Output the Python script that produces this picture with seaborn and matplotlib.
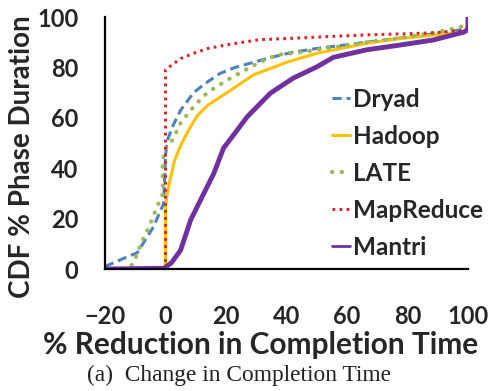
import matplotlib
matplotlib.use("Agg")
import matplotlib.pyplot as plt
import seaborn as sns
import pandas as pd

# ---- data ----
dryad_x = [-20, -15, -9.3, -4, -0.6, 0, 0.6, 2.5, 5, 9.3, 13, 18, 23, 29, 35, 42, 50, 60, 70, 80, 90, 98, 100]
dryad_y = [1, 3.6, 6.5, 16.7, 26, 45, 51, 57, 63, 70, 73.5, 77.6, 80, 82, 84, 86, 87.5, 89, 90.5, 92, 93.5, 95, 96]

late_x = [-14, -12, -10.5, -8.3, -5, -2.7, -0.8, -1, -0.5, 1, 2.7, 5, 9.3, 13.8, 20.4, 31, 37, 44.6, 55.5, 66.6, 77.7, 88.6, 97.5, 100]
late_y = [0, 0.5, 2.5, 9.5, 18, 25, 30, 40, 47, 49, 52, 58, 64.4, 70, 75, 82, 85, 86, 88, 90, 91.7, 93.7, 96, 98]

hadoop_x = [0, 0, 0.6, 1.6, 3, 5, 7.6, 10.6, 14, 20.4, 29, 40, 50, 66.6, 78, 88.6, 97.5, 100]
hadoop_y = [0, 25, 30, 36, 43, 49, 55, 61, 65, 70, 77, 82, 85.6, 89.6, 91.5, 92.8, 94, 95]

mapreduce_x = [0, 0, 1.6, 5, 9.3, 14, 20.4, 31, 44.6, 55, 66.6, 77.7, 88.6, 98.5, 100]
mapreduce_y = [0, 79, 80.5, 83.5, 85.6, 87.5, 89, 91, 91.7, 92.3, 92.9, 93.3, 93.7, 94.8, 95]

mantri_x = [-20, -0.5, 2, 5, 8.3, 11.6, 16, 19.2, 23, 27, 34.7, 42.3, 50, 55.5, 66.6, 77.7, 88.6, 98.6, 100, 100]
mantri_y = [0, 0.3, 2.5, 7.5, 19.4, 27.4, 38, 48, 54, 60.4, 69.8, 75.8, 80.2, 84, 87, 88.9, 90.9, 94, 95, 100]

series_names = ["Dryad", "Hadoop", "LATE", "MapReduce", "Mantri"]
x_ticks = [-20, 0, 20, 40, 60, 80, 100]
y_ticks = [0, 20, 40, 60, 80, 100]

xs = {"Dryad": dryad_x, "Hadoop": hadoop_x, "LATE": late_x, "MapReduce": mapreduce_x, "Mantri": mantri_x}
ys = {"Dryad": dryad_y, "Hadoop": hadoop_y, "LATE": late_y, "MapReduce": mapreduce_y, "Mantri": mantri_y}

styles = {
    "Dryad": dict(color="#4F81BD", lw=2.2, ls=(0, (3, 1.6))),
    "Hadoop": dict(color="#FFC000", lw=2.2, ls="-"),
    "LATE": dict(color="#9BBB59", lw=3.0, ls=(0, (0.1, 2.2)), dash_capstyle="round"),
    "MapReduce": dict(color="#D7262B", lw=2.2, ls=(0, (0.9, 1.4))),
    "Mantri": dict(color="#7030A0", lw=3.5, ls="-"),
}

sns.set_style("white")
plt.rcParams["font.family"] = ["Lato", "DejaVu Sans"]

fig = plt.figure(figsize=(4.92, 3.91), dpi=100)
ax = fig.add_axes([0.2134, 0.312, 0.7378, 0.6445])

for name in series_names:
    df = pd.DataFrame({"x": xs[name], "y": ys[name]})
    st = styles[name]
    kw = {}
    if "dash_capstyle" in st:
        kw["dash_capstyle"] = st["dash_capstyle"]
    sns.lineplot(data=df, x="x", y="y", ax=ax, sort=False, estimator=None,
                 color=st["color"], linewidth=st["lw"], linestyle=st["ls"],
                 label=name, **kw)

ax.set_xlim(-20, 100)
ax.set_ylim(0, 100)
ax.set_xticks(x_ticks)
ax.set_yticks(y_ticks)
for s in ["top", "right"]:
    ax.spines[s].set_visible(False)
for s in ["left", "bottom"]:
    ax.spines[s].set_linewidth(1.6)
    ax.spines[s].set_color("black")
ax.tick_params(axis="both", direction="out", length=6, width=1.6, color="black",
               labelsize=17)
for lab in ax.get_xticklabels() + ax.get_yticklabels():
    lab.set_fontweight("bold")
ax.tick_params(axis="x", pad=20)
ax.tick_params(axis="y", pad=13)

ax.set_xlabel("% Reduction in Completion Time", fontsize=21.5, fontweight="bold")
ax.set_ylabel("CDF % Phase Duration", fontsize=20, fontweight="bold")
ax.xaxis.label.set_va("center")
ax.yaxis.label.set_va("center")
ax.xaxis.set_label_coords(0.43, -0.30)
ax.yaxis.set_label_coords(-0.229, 0.444)

leg = ax.legend(loc="upper left", bbox_to_anchor=(0.625, 0.72), frameon=False,
                fontsize=17.5, handlelength=0.75, handletextpad=0.1, labelspacing=0.58,
                borderaxespad=0, borderpad=0)
for t in leg.get_texts():
    t.set_fontweight("bold")
leg.get_lines()[4].set_linewidth(2.0)

fig.text(0.486, 0.041, "(a)  Change in Completion Time", ha="center", va="center",
         fontsize=16.8, family=["Liberation Serif"], color="#222222")

fig.savefig("out.png", dpi=100)
